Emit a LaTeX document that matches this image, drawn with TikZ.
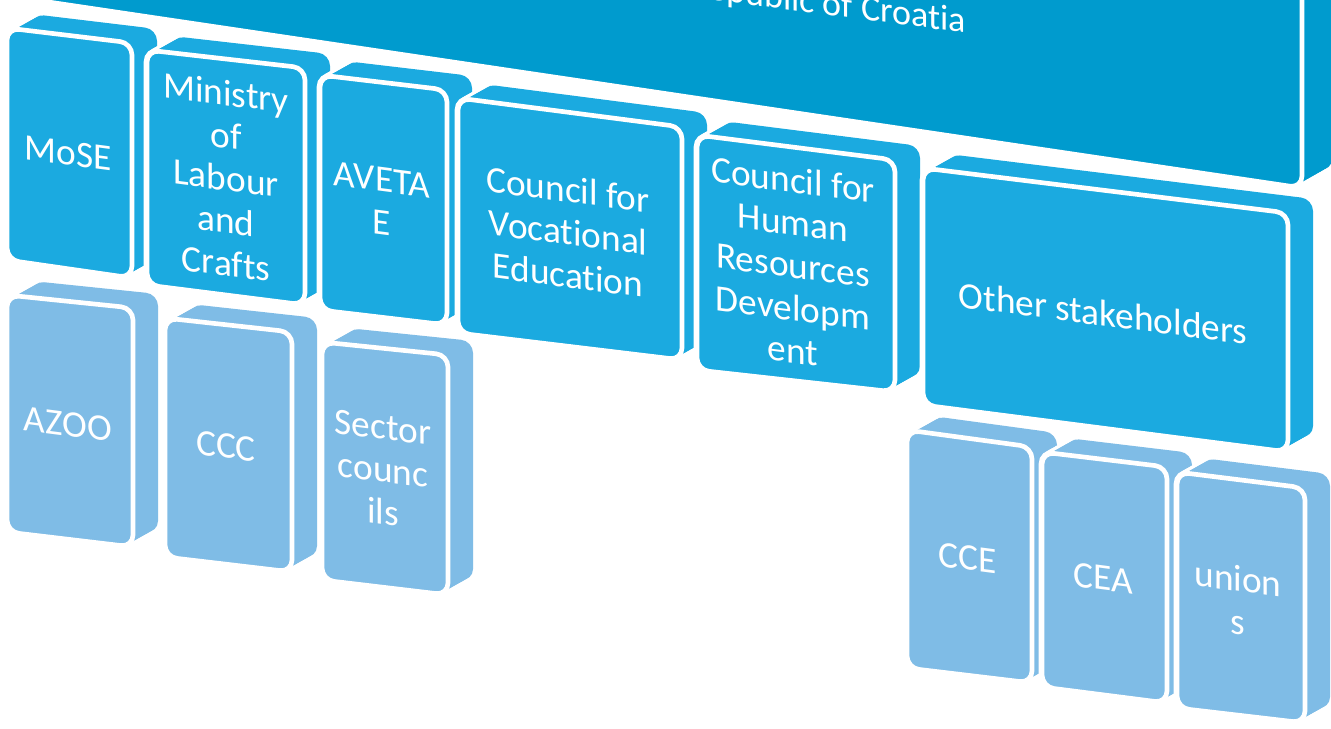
\documentclass[tikz,border=0pt]{standalone}
\usepackage{fontspec}
\setmainfont{Carlito}[Ligatures={NoCommon}]
\definecolor{bannerc}{RGB}{0,155,206}
\definecolor{midc}{RGB}{27,170,224}
\definecolor{lowc}{RGB}{127,188,230}
\tikzset{
  lab/.style={text=white, align=center, font=\fontsize{28}{32}\selectfont, inner sep=0pt, yslant=-0.13},
}
% #1 colour, #2 x left, #3 x right, #4 y top-left, #5 y top-right, #6 y bottom-left, #7 y bottom-right, #8 #9 depth vector
\newcommand\solidbox[9]{%
  \foreach \k in {0,...,12}{\draw[white, line width=5pt, rounded corners=9pt, shift={({#8*\k/12},{#9*\k/12})}] (#2,#4) -- (#3,#5) -- (#3,#7) -- (#2,#6) -- cycle;}
  \foreach \k in {1,...,12}{\fill[#1, rounded corners=9pt, shift={({#8*\k/12},{#9*\k/12})}] (#2,#4) -- (#3,#5) -- (#3,#7) -- (#2,#6) -- cycle;}
  \draw[fill=#1, draw=white, line width=3.5pt, rounded corners=9pt] (#2,#4) -- (#3,#5) -- (#3,#7) -- (#2,#6) -- cycle;
}
\begin{document}
\begin{tikzpicture}[x=0.75pt, y=-0.75pt]
\useasboundingbox (0,0) rectangle (1331,728);
\clip (0,0) rectangle (1331,728);
% top banner
\solidbox{bannerc}{-100}{1302}{-400}{-400}{-20}{188}{30}{-17}
% second level
\solidbox{midc}{7}{132}{28}{43}{260}{278}{25}{-14}
\solidbox{midc}{147}{305}{50}{68}{285}{305}{25}{-14}
\solidbox{midc}{320}{447}{75}{90}{310}{325}{25}{-14}
\solidbox{midc}{458}{682}{98}{127}{333}{360}{25}{-14}
\solidbox{midc}{697}{895}{135}{160}{370}{392}{25}{-14}
\solidbox{midc}{923}{1288}{168}{213}{405}{452}{25}{-14}
% third level
\solidbox{lowc}{7}{133}{295}{308}{532}{547}{25}{-14}
\solidbox{lowc}{165}{292}{318}{332}{557}{572}{25}{-14}
\solidbox{lowc}{322}{448}{342}{355}{580}{595}{25}{-14}
\solidbox{lowc}{907}{1032}{430}{447}{668}{683}{25}{-14}
\solidbox{lowc}{1042}{1167}{452}{467}{687}{703}{25}{-14}
\solidbox{lowc}{1177}{1305}{472}{488}{708}{723}{25}{-14}
% labels
\node[lab, font=\fontsize{27}{30}\selectfont, anchor=base east] (gov) at (966,33) {Republic of Croatia};
\node[lab] (mose) at (68,153) {MoSE};
\node[lab] (mlc) at (226,178) {Ministry\\of\\Labour\\and\\Crafts};
\node[lab] (aveta) at (382,201) {AVETA\\E};
\node[lab] (cve) at (568,232) {Council for\\Vocational\\Education};
\node[lab] (chrd) at (793,265) {Council for\\Human\\Resources\\Developm\\ent};
\node[lab] (other) at (1103,313) {Other stakeholders};
\node[lab] (azoo) at (68,424) {AZOO};
\node[lab] (ccc) at (226,446) {CCC};
\node[lab] (sector) at (383,470) {Sector\\counc\\ils};
\node[lab] (cce) at (968,558) {CCE};
\node[lab] (cea) at (1103,578) {CEA};
\node[lab] (unions) at (1238,600) {union\\s};
\end{tikzpicture}
\end{document}
